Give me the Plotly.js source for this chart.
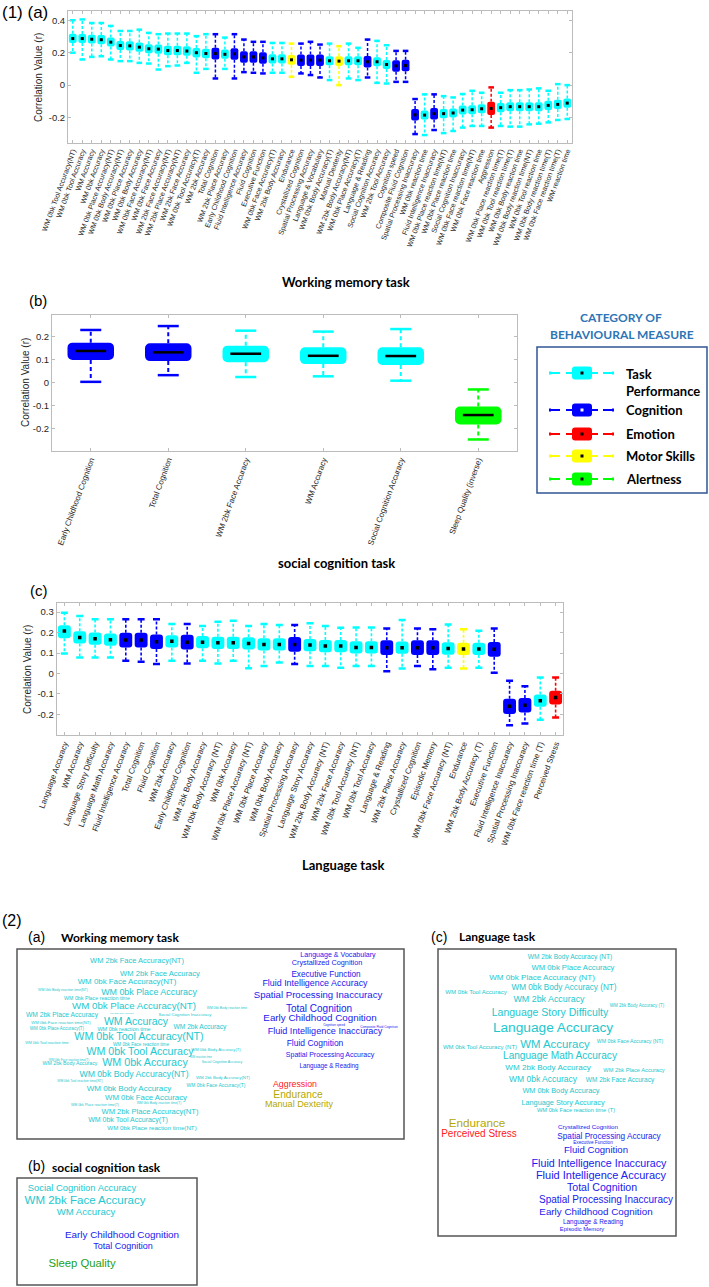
<!DOCTYPE html>
<html><head><meta charset="utf-8">
<script src="https://cdn.plot.ly/plotly-3.0.1.min.js"></script>
<style>html,body{margin:0;padding:0;background:#fff}#chart{width:709px;height:1287px}</style>
</head><body><div id="chart"></div>
<script>
// ================= DATA =================
// Category codes: T = Task Performance, C = Cognition, E = Emotion, M = Motor Skills, A = Alertness
const categoryCodes = ['T','C','E','M','A'];
const categoryNames = ['Task<br>Performance','Cognition','Emotion','Motor Skills','Alertness'];

// (1a) Working memory task
const wmLabels = ['WM 0bk Tool Accuracy(NT)','WM 0bk Tool Accuracy','WM Accuracy','WM 0bk Accuracy','WM 0bk Place Accuracy(NT)','WM 0bk Body Accuracy(NT)','WM 0bk Place Accuracy','WM 0bk Body Accuracy','WM 0bk Face Accuracy(NT)','WM 0bk Face Accuracy','WM 2bk Face Accuracy(NT)','WM 2bk Place Accuracy(NT)','WM 2bk Face Accuracy','WM 0bk Tool Accuracy(T)','WM 2bk Accuracy','Total Cognition','WM 2bk Place Accuracy','Early Childhood Cognition','Fluid Intelligence Accuracy','Fluid Cognition','Executive Function','WM 0bk Face Accuracy(T)','WM 2bk Body Accuracy','Endurance','Crystallized Cognition','Spatial Processing Accuracy','Language & Vocabulary','WM 0bk Body Accuracy(T)','Manual Dexterity','WM 2bk Body Accuracy(NT)','WM 0bk Place Accuracy(T)','Language & Reading','Social Cognition Accuracy','WM 2bk Tool Accuracy','Cognition speed','Composite Fluid Cognition','Spatial Processing Inaccuracy','WM 0bk reaction time','Fluid Intelligence Inaccuracy','WM 0bk Place reaction time(NT)','WM 0bk Place reaction time','Social Cognition Inaccuracy','WM 0bk Face reaction time(NT)','WM 0bk Face reaction time','Aggression','WM 0bk Place reaction time(T)','WM 0bk Tool reaction time(T)','WM 0bk Body reaction time','WM 0bk Body reaction time(NT)','WM 0bk Tool reaction time','WM 0bk Body reaction time(T)','WM 0bk Face reaction time(T)','WM reaction time'];
const wmGroup = ['T','T','T','T','T','T','T','T','T','T','T','T','T','T','T','C','T','C','C','C','C','T','T','M','C','C','C','T','M','T','T','C','T','T','C','C','C','T','C','T','T','T','T','T','E','T','T','T','T','T','T','T','T'];
const wmMedian = [0.287,0.287,0.283,0.280,0.265,0.244,0.242,0.234,0.224,0.222,0.213,0.213,0.210,0.200,0.195,0.195,0.190,0.193,0.174,0.174,0.168,0.162,0.162,0.156,0.154,0.154,0.154,0.150,0.148,0.150,0.150,0.144,0.144,0.127,0.119,0.121,-0.183,-0.185,-0.176,-0.176,-0.172,-0.154,-0.152,-0.146,-0.144,-0.139,-0.133,-0.133,-0.133,-0.133,-0.125,-0.119,-0.111];
const wmQ1 = [0.260,0.259,0.256,0.252,0.238,0.216,0.214,0.206,0.196,0.193,0.184,0.184,0.181,0.171,0.166,0.158,0.162,0.157,0.138,0.138,0.132,0.134,0.134,0.126,0.118,0.118,0.118,0.122,0.118,0.122,0.122,0.108,0.116,0.099,0.083,0.085,-0.219,-0.212,-0.212,-0.204,-0.200,-0.182,-0.180,-0.174,-0.185,-0.167,-0.161,-0.161,-0.161,-0.161,-0.153,-0.147,-0.139];
const wmQ3 = [0.316,0.315,0.311,0.309,0.293,0.272,0.270,0.263,0.252,0.251,0.242,0.242,0.239,0.229,0.224,0.230,0.219,0.228,0.209,0.209,0.203,0.190,0.190,0.186,0.189,0.189,0.189,0.178,0.178,0.178,0.178,0.179,0.172,0.155,0.154,0.156,-0.148,-0.157,-0.141,-0.148,-0.144,-0.126,-0.124,-0.118,-0.103,-0.111,-0.105,-0.105,-0.105,-0.105,-0.097,-0.091,-0.083];
const wmLow = [0.200,0.158,0.174,0.178,0.158,0.148,0.148,0.137,0.133,0.096,0.117,0.121,0.137,0.076,0.100,0.041,0.100,0.041,0.080,0.076,0.072,0.076,0.076,0.051,0.072,0.062,0.047,0.031,0.000,0.041,0.031,0.047,0.014,0.010,0.020,0.020,-0.302,-0.308,-0.277,-0.296,-0.283,-0.262,-0.252,-0.252,-0.262,-0.252,-0.256,-0.256,-0.242,-0.238,-0.230,-0.215,-0.209];
const wmHigh = [0.400,0.405,0.383,0.383,0.365,0.334,0.334,0.342,0.322,0.314,0.318,0.318,0.318,0.302,0.314,0.314,0.293,0.314,0.281,0.267,0.267,0.260,0.260,0.256,0.256,0.267,0.250,0.256,0.240,0.256,0.230,0.281,0.273,0.246,0.211,0.211,-0.086,-0.057,-0.057,-0.068,-0.076,-0.055,-0.035,-0.047,-0.014,-0.047,-0.031,-0.031,-0.027,-0.020,-0.035,0.006,0.000];

// (1b) Social cognition task
const scLabels = ['Early Childhood Cognition','Total Cognition','WM 2bk Face Accuracy','WM Accuracy','Social Cognition Accuracy','Sleep Quality (inverse)'];
const scGroup = ['C','C','T','T','T','A'];
const scMedian = [0.138,0.132,0.126,0.117,0.116,-0.140];
const scQ1 = [0.099,0.094,0.089,0.081,0.077,-0.181];
const scQ3 = [0.174,0.171,0.161,0.154,0.154,-0.103];
const scLow = [0.004,0.033,0.025,0.028,0.009,-0.246];
const scHigh = [0.229,0.246,0.226,0.222,0.233,-0.029];

// (1c) Language task
const langLabels = ['Language Accuracy','WM Accuracy','Language Story Difficulty','Language Math Accuracy','Fluid Intelligence Accuracy','Total Cognition','Fluid Cognition','WM 2bk Accuracy','Early Childhood Cognition','WM 2bk Body Accuracy','WM 0bk Body Accuracy (NT)','WM 0bk Accuracy','WM 0bk Place Accuracy (NT)','WM 0bk Place Accuracy','WM 0bk Body Accuracy','Spatial Processing Accuracy','Language Story Accuracy','WM 2bk Body Accuracy (NT)','WM 2bk Face Accuracy','WM 0bk Tool Accuracy (NT)','WM 0bk Tool Accuracy','Language & Reading','WM 2bk Place Accuracy','Crystallized Cognition','Episodic Memory','WM 0bk Face Accuracy (NT)','Endurance','WM 2bk Body Accuracy (T)','Executive Function','Fluid Intelligence Inaccuracy','Spatial Processing Inaccuracy','WM 0bk Face reaction time (T)','Perceived Stress'];
const langGroup = ['T','T','T','T','C','C','C','T','C','T','T','T','T','T','T','C','T','T','T','T','T','C','T','C','C','T','M','T','C','C','C','T','E'];
const langMedian = [0.207,0.176,0.170,0.165,0.163,0.163,0.155,0.157,0.153,0.153,0.150,0.150,0.147,0.142,0.142,0.142,0.139,0.134,0.134,0.127,0.127,0.126,0.126,0.126,0.126,0.122,0.120,0.120,0.118,-0.160,-0.155,-0.133,-0.118];
const langQ1 = [0.172,0.146,0.140,0.135,0.127,0.127,0.119,0.127,0.117,0.123,0.120,0.120,0.117,0.112,0.112,0.106,0.109,0.104,0.104,0.097,0.097,0.090,0.096,0.090,0.090,0.092,0.090,0.090,0.082,-0.198,-0.191,-0.163,-0.152];
const langQ3 = [0.236,0.206,0.200,0.195,0.199,0.199,0.191,0.187,0.189,0.183,0.180,0.180,0.177,0.172,0.172,0.178,0.169,0.164,0.164,0.157,0.157,0.162,0.156,0.162,0.162,0.152,0.150,0.150,0.154,-0.124,-0.120,-0.103,-0.084];
const langLow = [0.098,0.078,0.078,0.078,0.062,0.057,0.046,0.062,0.049,0.062,0.049,0.062,0.025,0.036,0.054,0.046,0.036,0.036,0.028,0.036,0.036,0.011,0.024,0.036,0.020,0.028,0.024,0.028,0.003,-0.253,-0.245,-0.226,-0.216];
const langHigh = [0.297,0.281,0.265,0.265,0.265,0.265,0.265,0.242,0.242,0.232,0.253,0.258,0.232,0.242,0.237,0.237,0.245,0.232,0.224,0.225,0.225,0.220,0.261,0.220,0.216,0.240,0.216,0.209,0.220,-0.036,-0.062,-0.020,-0.020];

// (2) Word clouds: words and their category
const cloudWMWords = ['WM 2bk Face Accuracy(NT)','WM 2bk Face Accuracy','WM 0bk Face Accuracy(NT)','WM 0bk Place Accuracy','WM 0bk Body reaction time(NT)','WM 0bk Place reaction time','WM 0bk Place Accuracy(NT)','WM 0bk Body reaction time','WM 2bk Place Accuracy','WM 2bk Tool Accuracy','Social Cognition Inaccuracy','WM 0bk Face reaction time(NT)','WM Accuracy','WM 0bk Place Accuracy(T)','WM 0bk reaction time','WM 2bk Accuracy','WM 0bk Tool Accuracy(NT)','WM 0bk Tool reaction time','WM 0bk Face reaction time','WM 0bk Body Accuracy(T)','WM 0bk Tool Accuracy','WM 0bk Face reaction time(T)','WM reaction time','WM 2bk Body Accuracy','WM 0bk Accuracy','Social Cognition Accuracy','WM 0bk Body Accuracy(NT)','WM 2bk Body Accuracy(NT)','WM 0bk Tool reaction time(NT)','WM 0bk Body Accuracy','WM 0bk Face Accuracy(T)','WM 0bk Face Accuracy','WM 0bk Place reaction time(T)','WM 0bk Body reaction time(T)','WM 2bk Place Accuracy(NT)','WM 0bk Tool Accuracy(T)','WM 0bk Place reaction time(NT)','Language & Vocabulary','Crystallized Cognition','Executive Function','Fluid Intelligence Accuracy','Spatial Processing Inaccuracy','Total Cognition','Early Childhood Cognition','Cognition speed','Composite Fluid Cognition','Fluid Intelligence Inaccuracy','Fluid Cognition','Spatial Processing Accuracy','Language & Reading','Aggression','Endurance','Manual Dexterity'];
const cloudWMGroup = ['T','T','T','T','T','T','T','T','T','T','T','T','T','T','T','T','T','T','T','T','T','T','T','T','T','T','T','T','T','T','T','T','T','T','T','T','T','C','C','C','C','C','C','C','C','C','C','C','C','C','E','M','M'];
const cloudSCWords = ['Social Cognition Accuracy','WM 2bk Face Accuracy','WM Accuracy','Early Childhood Cognition','Total Cognition','Sleep Quality'];
const cloudSCGroup = ['T','T','T','C','C','A'];
const cloudLangWords = ['WM 2bk Body Accuracy (NT)','WM 0bk Place Accuracy','WM 0bk Place Accuracy (NT)','WM 0bk Tool Accuracy','WM 0bk Body Accuracy (NT)','WM 2bk Accuracy','WM 2bk Body Accuracy (T)','Language Story Difficulty','Language Accuracy','WM 0bk Tool Accuracy (NT)','WM Accuracy','WM 0bk Face Accuracy (NT)','Language Math Accuracy','WM 2bk Body Accuracy','WM 2bk Place Accuracy','WM 0bk Accuracy','WM 2bk Face Accuracy','WM 0bk Body Accuracy','Language Story Accuracy','WM 0bk Face reaction time (T)','Endurance','Perceived Stress','Crystallized Cognition','Spatial Processing Accuracy','Executive Function','Fluid Cognition','Fluid Intelligence Inaccuracy','Fluid Intelligence Accuracy','Total Cognition','Spatial Processing Inaccuracy','Early Childhood Cognition','Language & Reading','Episodic Memory'];
const cloudLangGroup = ['T','T','T','T','T','T','T','T','T','T','T','T','T','T','T','T','T','T','T','T','M','E','C','C','C','C','C','C','C','C','C','C','C'];

// ================= LAYOUT / STYLE =================
const W = 709, H = 1287;
const FONT = 'Liberation Sans, Arial, Helvetica, sans-serif';
const BOLD = 'Lato, Open Sans, sans-serif';
const boxColor = {T:'#00FFFF', C:'#0000FF', E:'#FF0000', M:'#FFFF00', A:'#00FF00'};
const wordColor = {T:'#1CC8CE', C:'#2020EE', E:'#FF2020', M:'#B4A800', A:'#22A022'};
const px2x = v => v / W;
const px2y = v => 1 - v / H;

// word-cloud placement (pixels) and font sizes
const cloudWMPos = [[137,961],[160,974],[127,982],[149,993],[63,990],[97,999],[134,1007],[227,1008],[62,1015],[122,1013],[185,1014.5],[61,1023],[136,1022.5],[57,1029],[124,1030],[200,1027],[139,1037.5],[47,1043],[141,1045],[216,1049.5],[140,1052],[69,1060],[201,1057],[70,1064],[145,1063.5],[222,1062],[134,1075],[223,1078],[80,1081],[129,1089],[216,1086],[146,1098],[95,1105],[159,1103],[150,1112],[128,1120],[152,1128],[338,955],[327,963],[326,975],[315,984],[318,996],[319,1009],[320,1019],[334,1025],[379,1027],[325,1032],[315,1044],[330,1055],[329,1066],[295,1085],[298,1095],[299,1105]];
const cloudWMSize = [7.5,7.6,7.9,8.9,3.5,5.3,9.7,3.3,6.7,2.4,4.3,4.2,10.5,4.5,5.5,6.6,10.7,3.7,4.6,4.2,10.6,3.0,2.8,5.2,10.7,3.5,8.7,4.3,3.3,8.0,5.0,7.8,3.5,3.3,7.6,7.0,6.2,7.1,7.3,8.2,8.9,9.6,10,9.8,3.0,3.2,9.1,8.5,7.0,6.3,8.8,10.2,9.1];
const cloudSCPos = [[82,1189],[85,1201],[86,1213],[122,1236],[123,1247],[82,1264]];
const cloudSCSize = [9.4,11.5,9.6,9.9,9.0,11.3];
const cloudLangPos = [[570,957],[573,968],[542,978],[476,992],[564,988],[549,1000],[637,1006],[550,1013],[553,1029],[480,1047],[555,1045],[630,1042],[560,1056],[548,1068],[634,1071],[543,1080],[620,1080],[561,1091],[563,1103],[576,1111],[477,1124],[479,1134],[588,1127],[609,1137],[593,1143],[596,1151],[599,1164],[601,1176],[602,1188],[606,1200],[596,1213],[593,1222],[582,1230]];
const cloudLangSize = [6.6,7.7,8.1,6.1,8.2,8.9,4.5,10.5,13.7,6.0,11.4,5.2,10.1,8.1,5.7,8.5,6.5,7.3,7.3,5.7,11.7,10,6.2,8.2,4.7,9.6,10.7,11,10.6,10,9.8,6.4,5.8];

const panels = [
  {labels:wmLabels, group:wmGroup, med:wmMedian, q1:wmQ1, q3:wmQ3, lo:wmLow, hi:wmHigh,
   xa:'x', ya:'y', xk:'xaxis', yk:'yaxis', px:[68,572], py:[11,143], yr:[-0.357,0.457],
   yt:[-0.2,0,0.2,0.4], tick:7.2, boxW:0.82, rad:2, cap:4, capW:2.5, medSym:'square', medSize:3, medW:0, dash:'3px,2px', wl:1.5},
  {labels:scLabels, group:scGroup, med:scMedian, q1:scQ1, q3:scQ3, lo:scLow, hi:scHigh,
   xa:'x2', ya:'y2', xk:'xaxis2', yk:'yaxis2', px:[52,517], py:[315,451], yr:[-0.296,0.294],
   yt:[-0.2,-0.1,0,0.1,0.2], tick:8, boxW:0.6, rad:5, cap:15, capW:2.5, medSym:'line-ew-open', medSize:22, medW:2.5, dash:'4px,3px', wl:2},
  {labels:langLabels, group:langGroup, med:langMedian, q1:langQ1, q3:langQ3, lo:langLow, hi:langHigh,
   xa:'x3', ya:'y3', xk:'xaxis3', yk:'yaxis3', px:[56.7,563.3], py:[602.7,735], yr:[-0.301,0.346],
   yt:[-0.2,-0.1,0,0.1,0.2,0.3], tick:8, boxW:0.84, rad:3, cap:5, capW:2.5, medSym:'square', medSize:3.5, medW:0, dash:'3px,2px', wl:1.6}
];

const traces = [];
const layout = {
  width: W, height: H, margin:{l:0,r:0,t:0,b:0}, paper_bgcolor:'#fff', plot_bgcolor:'rgba(0,0,0,0)',
  showlegend:false, barmode:'overlay', font:{family:FONT, color:'#000'},
  annotations:[], shapes:[]
};

panels.forEach(p => {
  // boxes (rounded bars from q1 to q3)
  traces.push({type:'bar', x:p.labels, base:p.q1, y:p.q3.map((v,i)=>v-p.q1[i]), width:p.boxW,
    xaxis:p.xa, yaxis:p.ya, hoverinfo:'skip',
    marker:{color:p.group.map(g=>boxColor[g]), cornerradius:p.rad, line:{width:0}}});
  // dashed whiskers, one trace per category colour
  categoryCodes.forEach(g => {
    const xs=[], ys=[];
    p.labels.forEach((lab,i)=>{ if(p.group[i]===g){ xs.push(lab,lab,null,lab,lab,null); ys.push(p.q3[i],p.hi[i],null,p.q1[i],p.lo[i],null);} });
    if(xs.length) traces.push({type:'scatter', mode:'lines', x:xs, y:ys, xaxis:p.xa, yaxis:p.ya, hoverinfo:'skip',
      connectgaps:false, line:{color:boxColor[g], width:p.wl, dash:p.dash}});
  });
  // whisker caps
  const capCols = p.group.map(g=>boxColor[g]);
  traces.push({type:'scatter', mode:'markers', x:p.labels.concat(p.labels), y:p.lo.concat(p.hi), xaxis:p.xa, yaxis:p.ya,
    hoverinfo:'skip', marker:{symbol:'line-ew-open', size:p.cap, color:capCols.concat(capCols), line:{width:p.capW, color:capCols.concat(capCols)}}});
  // medians
  traces.push({type:'scatter', mode:'markers', x:p.labels, y:p.med, xaxis:p.xa, yaxis:p.ya, hoverinfo:'skip',
    marker:{symbol:p.medSym, size:p.medSize, color:'#000', line:{width:p.medW, color:'#000'}}});

  layout[p.xk] = {domain:[px2x(p.px[0]), px2x(p.px[1])], anchor:p.ya, type:'category',
    categoryorder:'array', categoryarray:p.labels, range:[-0.5, p.labels.length-0.5],
    showline:true, mirror:'ticks', linecolor:'#bcbcbc', linewidth:1, ticks:'inside', ticklen:3, tickcolor:'#bcbcbc',
    tickangle:-70, tickfont:{family:FONT, size:p.tick, color:'#262626'}, showgrid:false, zeroline:false, automargin:false, fixedrange:true};
  layout[p.yk] = {domain:[px2y(p.py[1]), px2y(p.py[0])], anchor:p.xa, range:p.yr,
    tickvals:p.yt, ticktext:p.yt.map(v=>String(v)), showline:true, mirror:'ticks', linecolor:'#bcbcbc', linewidth:1,
    ticks:'inside', ticklen:3, tickcolor:'#bcbcbc', tickfont:{family:FONT, size:9.5, color:'#262626'},
    showgrid:false, zeroline:false, automargin:false, fixedrange:true};
});

// overlay pixel-coordinate axes for word clouds, legend and labels
layout.xaxis4 = {domain:[0,1], range:[0,W], visible:false, fixedrange:true, anchor:'y4'};
layout.yaxis4 = {domain:[0,1], range:[H,0], visible:false, fixedrange:true, anchor:'x4'};

function cloudTrace(words, groups, pos, sizes){
  return {type:'scatter', mode:'text', xaxis:'x4', yaxis:'y4', hoverinfo:'skip', cliponaxis:false,
    x:pos.map(q=>q[0]), y:pos.map(q=>q[1]), text:words, textposition:'middle center',
    textfont:{family:FONT, size:sizes, color:groups.map(g=>wordColor[g])}};
}
traces.push(cloudTrace(cloudWMWords, cloudWMGroup, cloudWMPos, cloudWMSize));
traces.push(cloudTrace(cloudSCWords, cloudSCGroup, cloudSCPos, cloudSCSize));
traces.push(cloudTrace(cloudLangWords, cloudLangGroup, cloudLangPos, cloudLangSize));

function ann(text, x, y, o){
  layout.annotations.push(Object.assign({text, x, y, xref:'x4', yref:'y4', showarrow:false,
    xanchor:'center', yanchor:'middle', font:{family:FONT, size:12, color:'#000'}}, o||{}));
}
// panel labels
ann('(1) (a)', 0, 12, {xanchor:'left', font:{family:FONT, size:17, color:'#000'}});
ann('(b)', 27, 300, {xanchor:'left', font:{family:FONT, size:15, color:'#000'}});
ann('(c)', 28, 590, {xanchor:'left', font:{family:FONT, size:15, color:'#000'}});
// y titles
[[38,78],[25,383],[27,670]].forEach(q => ann('Correlation Value (r)', q[0], q[1], {textangle:-90, font:{family:FONT, size:10, color:'#262626'}}));
// x titles
ann('<b>Working memory task</b>', 346, 282, {font:{family:BOLD, size:13, color:'#000'}});
ann('<b>social cognition task</b>', 336, 563, {font:{family:BOLD, size:13, color:'#000'}});
ann('<b>Language task</b>', 343, 865, {font:{family:BOLD, size:13, color:'#000'}});

// legend
ann('<b>CATEGORY OF</b>', 621, 317, {font:{family:BOLD, size:12, color:'#2E75B6'}});
ann('<b>BEHAVIOURAL MEASURE</b>', 622, 334, {font:{family:BOLD, size:12, color:'#2E75B6'}});
layout.shapes.push({type:'rect', xref:'x4', yref:'y4', x0:537, x1:707, y0:347, y1:493, line:{color:'#2F5597', width:1.5}});
const legendY = [373, 410, 434, 456, 479];
function rr(x0,y0,x1,y1,r){
  return `M${x0+r},${y0} L${x1-r},${y0} Q${x1},${y0} ${x1},${y0+r} L${x1},${y1-r} Q${x1},${y1} ${x1-r},${y1} L${x0+r},${y1} Q${x0},${y1} ${x0},${y1-r} L${x0},${y0+r} Q${x0},${y0} ${x0+r},${y0} Z`;
}
categoryCodes.forEach((g,k) => {
  const y = legendY[k], c = boxColor[g];
  [[550,560],[566,573],[591,598],[603,613]].forEach(s => layout.shapes.push({type:'line', xref:'x4', yref:'y4', x0:s[0], x1:s[1], y0:y, y1:y, line:{color:c, width:2}}));
  layout.shapes.push({type:'line', xref:'x4', yref:'y4', x0:550, x1:550, y0:y-1.5, y1:y+1.5, line:{color:c, width:2}});
  layout.shapes.push({type:'line', xref:'x4', yref:'y4', x0:613, x1:613, y0:y-1.5, y1:y+1.5, line:{color:c, width:2}});
  layout.shapes.push({type:'path', xref:'x4', yref:'y4', path:rr(572,y-6.5,592,y+6.5,3), fillcolor:c, line:{width:0}});
  const dc = g==='C' ? '#FFFFFF' : '#000000';
  layout.shapes.push({type:'rect', xref:'x4', yref:'y4', x0:580.5, x1:583.5, y0:y-1.5, y1:y+1.5, fillcolor:dc, line:{width:0}});
  if (k===0) ann('<b>'+categoryNames[k]+'</b>', 624, 364, {xanchor:'left', yanchor:'top', align:'left', font:{family:BOLD, size:13, color:'#000'}});
  else ann('<b>'+categoryNames[k]+'</b>', 624, y, {xanchor:'left', font:{family:BOLD, size:13, color:'#000'}});
});

// (2) word cloud frames and titles
ann('(2)', 0, 920, {xanchor:'left', font:{family:FONT, size:16, color:'#000'}});
ann('(a)', 26, 937, {xanchor:'left', font:{family:FONT, size:14, color:'#000'}});
ann('<b>Working memory task</b>', 59, 937, {xanchor:'left', font:{family:BOLD, size:12, color:'#000'}});
ann('(b)', 26, 1166, {xanchor:'left', font:{family:FONT, size:14, color:'#000'}});
ann('<b>social cognition task</b>', 50, 1167, {xanchor:'left', font:{family:BOLD, size:12, color:'#000'}});
ann('(c)', 429, 937, {xanchor:'left', font:{family:FONT, size:14, color:'#000'}});
ann('<b>Language task</b>', 457, 936, {xanchor:'left', font:{family:BOLD, size:12, color:'#000'}});
[[17,949,404,1139],[17,1178,197,1285],[438,949,676,1236]].forEach(b =>
  layout.shapes.push({type:'rect', xref:'x4', yref:'y4', x0:b[0], y0:b[1], x1:b[2], y1:b[3], line:{color:'#555', width:1.5}}));

Plotly.newPlot('chart', traces, layout, {staticPlot:true, displayModeBar:false});
</script>
</body></html>
